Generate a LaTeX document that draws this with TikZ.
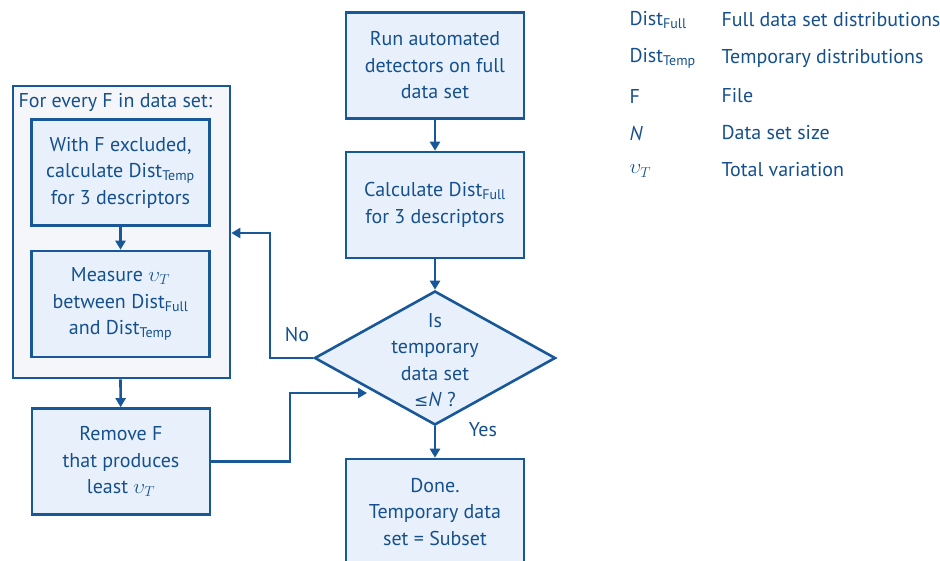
\documentclass[tikz,border=0pt]{standalone}
\usepackage{fontspec}
\setmainfont{PT Sans}
\usetikzlibrary{shapes.geometric,arrows.meta,calc}
\definecolor{dblue}{RGB}{24,88,152}
\definecolor{tblue}{RGB}{22,80,140}
\definecolor{bfill}{RGB}{232,241,251}
\definecolor{ofill}{RGB}{245,246,250}
\newcommand{\sbs}[1]{\textsubscript{#1}}
\tikzset{
  box/.style={draw=dblue,line width=2.6pt,fill=bfill,minimum width=178pt,minimum height=106pt,
    align=center,text=tblue,inner sep=2pt,font=\fontsize{20}{26.5}\selectfont},
  outerbox/.style={draw=dblue,line width=2.6pt,fill=ofill},
  dia/.style={draw=dblue,line width=2.6pt,fill=bfill,diamond,minimum width=241pt,minimum height=134pt,inner sep=0pt},
  lbl/.style={text=tblue,font=\fontsize{20}{26.5}\selectfont,align=center},
  leg/.style={text=tblue,font=\fontsize{20}{24}\selectfont,anchor=west},
  conn/.style={draw=dblue,line width=2.6pt,-{Triangle[length=9pt,width=10pt]}},
  plain/.style={draw=dblue,line width=2.6pt}
}
\begin{document}
\begin{tikzpicture}[x=1pt,y=-1pt]
\useasboundingbox (0,0) rectangle (940,560);
% outer loop box
\node[outerbox,minimum width=217pt,minimum height=292pt,inner sep=0pt] (outer) at (121.5,232) {};
\node[lbl,anchor=west] (ttl) at (15,102) {For every F in data set:};
\node[box] (b1) at (120.5,172.5) {With F excluded,\\calculate Dist\sbs{Temp}\\for 3 descriptors};
\node[box] (b2) at (120.5,304) {Measure $\upsilon_T$\\between Dist\sbs{Full}\\and Dist\sbs{Temp}};
\node[box] (rem) at (121,461.5) {Remove F\\that produces\\least $\upsilon_T$};
% main column
\node[box] (run) at (435,65.5) {Run automated\\detectors on full\\data set};
\node[box] (calc) at (435,205) {Calculate Dist\sbs{Full}\\for 3 descriptors};
\node[dia] (d) at (435,358) {};
\node[lbl] (dtxt) at (435,360) {Is\\temporary\\data set\\{\fontspec{DejaVu Sans}\fontsize{17}{20}\selectfont ≤}\textit{N} ?};
\node[box] (done) at (435,512) {Done.\\Temporary data\\set = Subset};
\node[lbl] (no) at (297,335) {No};
\node[lbl] (yes) at (483,430) {Yes};
% connectors
\draw[conn] (b1) -- (b2);
\draw[conn] (outer.south -| b2) -- (rem);
\draw[conn] (run) -- (calc);
\draw[conn] (calc) -- (d.north);
\draw[conn] (d.south) -- (done);
\coordinate (nob) at (270,233);
\draw[conn] (d.west) -| (nob) -- (nob -| outer.east);
\coordinate (tip) at (367,393);
\coordinate (rj) at (290,393);
\draw[conn] (rem.east) -| (rj) -- (tip);
% legend
\node[leg] (l1a) at (626,20) {Dist\sbs{Full}};
\node[leg] (l1b) at (718,20) {Full data set distributions};
\node[leg] (l2a) at (626,58) {Dist\sbs{Temp}};
\node[leg] (l2b) at (718,58) {Temporary distributions};
\node[leg] (l3a) at (626,96) {F};
\node[leg] (l3b) at (718,96) {File};
\node[leg] (l4a) at (626,133) {\textit{N}};
\node[leg] (l4b) at (718,133) {Data set size};
\node[leg] (l5a) at (626,171) {$\upsilon_T$};
\node[leg] (l5b) at (718,170) {Total variation};
\end{tikzpicture}
\end{document}
